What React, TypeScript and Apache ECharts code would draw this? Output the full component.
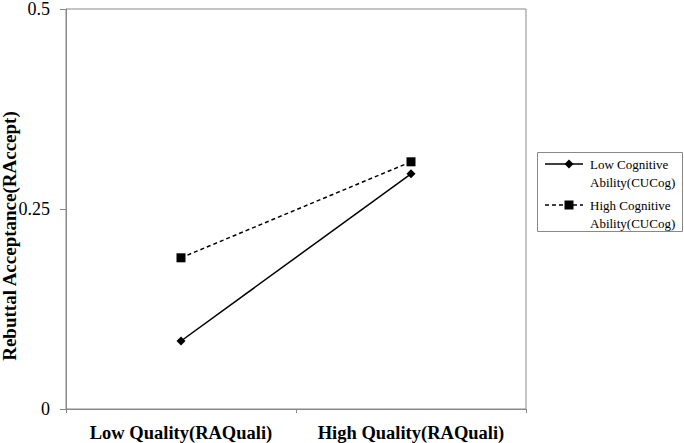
import React, { useEffect, useRef } from "react";
import * as echarts from "echarts";

const categories = ["Low Quality(RAQuali)", "High Quality(RAQuali)"];
const lowCogValues = [0.085, 0.294];
const highCogValues = [0.189, 0.309];
const seriesNames = ["Low Cognitive Ability(CUCog)", "High Cognitive Ability(CUCog)"];
const legendLines = [
  ["Low Cognitive", "Ability(CUCog)"],
  ["High Cognitive", "Ability(CUCog)"],
];
const yTitle = "Rebuttal Acceptance(RAccept)";

const FONT = "Liberation Serif";

export default function App() {
  const ref = useRef<HTMLDivElement>(null);
  useEffect(() => {
    const chart = echarts.init(ref.current!, null, { renderer: "svg" });
    const legendItem = (i: number, y: number, dashed: boolean, symbol: "diamond" | "rect") => {
      const marker =
        symbol === "diamond"
          ? {
              type: "polygon",
              shape: { points: [[569, y - 4.5], [573.5, y], [569, y + 4.5], [564.5, y]] },
              style: { fill: "#000" },
            }
          : { type: "rect", shape: { x: 564.5, y: y - 4.5, width: 9, height: 9 }, style: { fill: "#000" } };
      return [
        {
          type: "line",
          shape: { x1: 545, y1: y, x2: 583, y2: y },
          style: { stroke: "#000", lineWidth: 1.5, lineDash: dashed ? [4, 3] : null },
        },
        marker,
        {
          type: "text",
          x: 590,
          y: y,
          style: {
            text: legendLines[i][0],
            fontFamily: FONT,
            fontSize: 13,
            fill: "#000",
            verticalAlign: "middle",
          },
        },
        {
          type: "text",
          x: 590,
          y: y + 18,
          style: {
            text: legendLines[i][1],
            fontFamily: FONT,
            fontSize: 13,
            fill: "#000",
            verticalAlign: "middle",
          },
        },
      ];
    };
    chart.setOption({
      animation: false,
      backgroundColor: "#fff",
      textStyle: { fontFamily: FONT, color: "#000" },
      grid: {
        left: 66,
        right: 158,
        top: 7,
        bottom: 34,
        show: true,
        borderColor: "#888",
        borderWidth: 1,
        backgroundColor: "#fff",
      },
      xAxis: {
        type: "category",
        data: categories,
        boundaryGap: true,
        axisLine: { lineStyle: { color: "#888", width: 1 } },
        axisTick: { show: true, length: 4, lineStyle: { color: "#888" } },
        axisLabel: {
          interval: 0,
          hideOverlap: false,
          color: "#000",
          fontFamily: FONT,
          fontWeight: "bold",
          fontSize: 18.5,
          margin: 14,
        },
      },
      yAxis: {
        type: "value",
        min: 0,
        max: 0.5,
        interval: 0.25,
        axisLine: { show: true, lineStyle: { color: "#888", width: 1 } },
        axisTick: { show: true, length: 6, lineStyle: { color: "#888" } },
        splitLine: { show: false },
        axisLabel: {
          color: "#000",
          fontFamily: FONT,
          fontSize: 18,
          margin: 16,
          formatter: (v: number) => String(v),
        },
      },
      graphic: [
        {
          type: "text",
          x: 9,
          y: 236,
          rotation: Math.PI / 2,
          style: {
            text: yTitle,
            fontFamily: FONT,
            fontWeight: "bold",
            fontSize: 19,
            fill: "#000",
            align: "center",
            verticalAlign: "middle",
          },
        },
        {
          type: "rect",
          shape: { x: 537.5, y: 152.5, width: 145, height: 79 },
          style: { fill: "#fff", stroke: "#888", lineWidth: 1 },
        },
        ...legendItem(0, 164, false, "diamond"),
        ...legendItem(1, 205, true, "rect"),
      ],
      series: [
        {
          name: seriesNames[0],
          type: "line",
          data: lowCogValues,
          symbol: "diamond",
          symbolSize: 9,
          itemStyle: { color: "#000" },
          lineStyle: { color: "#000", width: 1.5, type: "solid" },
        },
        {
          name: seriesNames[1],
          type: "line",
          data: highCogValues,
          symbol: "rect",
          symbolSize: 9,
          itemStyle: { color: "#000" },
          lineStyle: { color: "#000", width: 1.5, type: [4, 3] },
        },
      ],
    });
    return () => chart.dispose();
  }, []);
  return <div ref={ref} style={{ width: 684, height: 443, position: "absolute", left: 0, top: 0 }} />;
}
